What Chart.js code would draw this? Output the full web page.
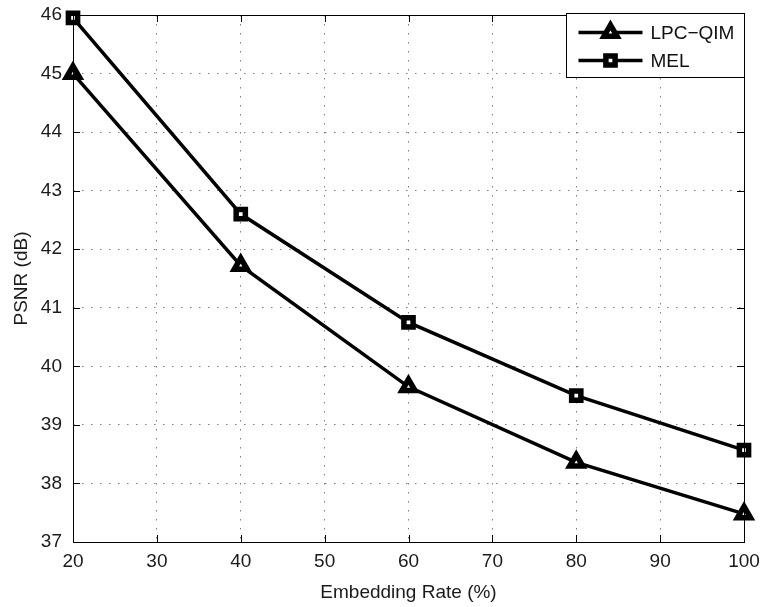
<!DOCTYPE html>
<html lang="en">
<head>
    <meta charset="UTF-8">
    <title>PSNR vs Embedding Rate</title>
    <script src="https://cdn.jsdelivr.net/npm/chart.js@4.4.0/dist/chart.umd.min.js"></script>
    <style>
        body { margin: 0; background: #fff; }
        #wrap { width: 762px; height: 607px; }
    </style>
</head>
<body>
    <div id="wrap"><canvas id="myChart" width="762" height="607"></canvas></div>
    <script>
        const rates = [20, 40, 60, 80, 100];
        const lpcQim = [45.0, 41.72, 39.65, 38.36, 37.48];
        const mel = [45.95, 42.6, 40.75, 39.5, 38.57];
        const seriesNames = ['LPC\u2212QIM', 'MEL'];

        const FONT = 'Liberation Sans, Arial, Helvetica, sans-serif';
        const FS = 19;

        // frame, inward ticks and the boxed legend
        const framePlugin = {
            id: 'frame',
            afterDraw(chart) {
                const ctx = chart.ctx;
                const a = chart.chartArea;
                const xs = chart.scales.x, ys = chart.scales.y;
                ctx.save();
                ctx.strokeStyle = '#000';
                ctx.lineWidth = 1;
                ctx.beginPath();
                xs.ticks.forEach(t => {
                    const px = Math.round(xs.getPixelForValue(t.value)) + 0.5;
                    ctx.moveTo(px, a.bottom); ctx.lineTo(px, a.bottom - 7);
                    ctx.moveTo(px, a.top); ctx.lineTo(px, a.top + 7);
                });
                ys.ticks.forEach(t => {
                    const py = Math.round(ys.getPixelForValue(t.value)) + 0.5;
                    ctx.moveTo(a.left, py); ctx.lineTo(a.left + 7, py);
                    ctx.moveTo(a.right, py); ctx.lineTo(a.right - 7, py);
                });
                ctx.stroke();
                ctx.strokeRect(Math.round(a.left) + 0.5, Math.round(a.top) + 0.5,
                    Math.round(a.right - a.left), Math.round(a.bottom - a.top));

                // legend
                const bw = 178, bh = 64;
                const bx = Math.round(a.right - bw) + 0.5, by = Math.round(a.top) - 1.5;
                ctx.fillStyle = '#fff';
                ctx.fillRect(bx, by, bw, bh);
                ctx.strokeRect(bx, by, bw, bh);
                const rows = [by + 19, by + 47];
                chart.data.datasets.forEach((ds, i) => {
                    const y = rows[i];
                    ctx.lineWidth = 3.5;
                    ctx.beginPath();
                    ctx.moveTo(bx + 12, y); ctx.lineTo(bx + 76, y);
                    ctx.stroke();
                    const cx = bx + 44;
                    ctx.fillStyle = '#fff';
                    ctx.lineWidth = 5.5;
                    ctx.beginPath();
                    if (ds.pointStyle === 'triangle') {
                        const r = 7.5;
                        ctx.moveTo(cx, y - r);
                        ctx.lineTo(cx + 0.866 * r, y + 0.5 * r);
                        ctx.lineTo(cx - 0.866 * r, y + 0.5 * r);
                        ctx.closePath();
                    } else {
                        const s = 6.5 * Math.SQRT1_2;
                        ctx.rect(cx - s, y - s, 2 * s, 2 * s);
                    }
                    ctx.fill();
                    ctx.stroke();
                    ctx.fillStyle = '#111';
                    ctx.font = FS + 'px ' + FONT;
                    ctx.textBaseline = 'middle';
                    ctx.textAlign = 'left';
                    ctx.fillText(ds.label, bx + 84, y + 1);
                });
                ctx.restore();
            }
        };

        const ctx = document.getElementById('myChart').getContext('2d');
        const myChart = new Chart(ctx, {
            type: 'line',
            data: {
                datasets: [{
                    label: seriesNames[0],
                    data: rates.map((r, i) => ({ x: r, y: lpcQim[i] })),
                    borderColor: '#000',
                    backgroundColor: '#fff',
                    borderWidth: 3.5,
                    pointStyle: 'triangle',
                    pointRadius: 7.5,
                    pointBorderWidth: 5.5,
                    clip: false,
                    tension: 0
                }, {
                    label: seriesNames[1],
                    data: rates.map((r, i) => ({ x: r, y: mel[i] })),
                    borderColor: '#000',
                    backgroundColor: '#fff',
                    borderWidth: 3.5,
                    pointStyle: 'rect',
                    pointRadius: 6.5,
                    pointBorderWidth: 5.5,
                    clip: false,
                    tension: 0
                }]
            },
            plugins: [framePlugin],
            options: {
                responsive: false,
                animation: false,
                layout: { padding: { left: 0, right: 18, top: 15, bottom: 0 } },
                plugins: {
                    legend: { display: false },
                    tooltip: { enabled: false }
                },
                scales: {
                    x: {
                        type: 'linear',
                        min: 20,
                        max: 100,
                        afterFit: s => { s.height = 65; s.paddingLeft = 0; s.paddingRight = 0; },
                        ticks: {
                            stepSize: 10,
                            padding: 8,
                            color: '#1a1a1a',
                            font: { family: FONT, size: FS },
                            maxRotation: 0
                        },
                        grid: {
                            drawTicks: false,
                            color: 'rgba(0,0,0,0.5)',
                            lineWidth: 1
                        },
                        border: { display: false, dash: [1.5, 7.5] },
                        title: {
                            display: true,
                            text: 'Embedding Rate (%)',
                            color: '#1a1a1a',
                            font: { family: FONT, size: FS },
                            padding: { top: 2, bottom: 3 }
                        }
                    },
                    y: {
                        min: 37,
                        max: 46,
                        afterFit: s => { s.width = 73; s.paddingTop = 0; s.paddingBottom = 0; },
                        ticks: {
                            stepSize: 1,
                            padding: 11,
                            color: '#1a1a1a',
                            font: { family: FONT, size: FS }
                        },
                        grid: {
                            drawTicks: false,
                            color: 'rgba(0,0,0,0.5)',
                            lineWidth: 1
                        },
                        border: { display: false, dash: [1.5, 7.5] },
                        title: {
                            display: true,
                            text: 'PSNR (dB)',
                            color: '#1a1a1a',
                            font: { family: FONT, size: FS },
                            padding: { top: 10, bottom: 0 }
                        }
                    }
                }
            }
        });
    </script>
</body>
</html>
